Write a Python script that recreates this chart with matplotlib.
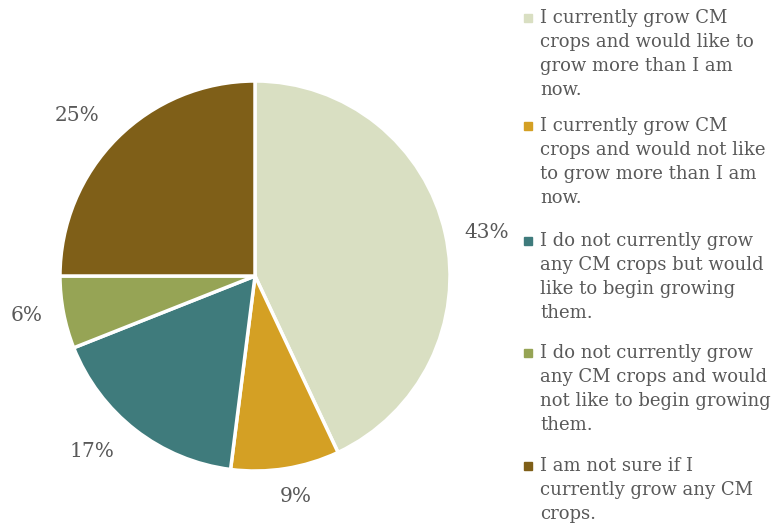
import numpy as np
import matplotlib.pyplot as plt

# data
labels = ['I currently grow CM\ncrops and would like to\ngrow more than I am\nnow.',
          'I currently grow CM\ncrops and would not like\nto grow more than I am\nnow.',
          'I do not currently grow\nany CM crops but would\nlike to begin growing\nthem.',
          'I do not currently grow\nany CM crops and would\nnot like to begin growing\nthem.',
          'I am not sure if I\ncurrently grow any CM\ncrops.']
values = [43, 9, 17, 6, 25]
colors = ['#D9DFC2', '#D4A024', '#3F7B7C', '#96A455', '#7F5F18']

plt.rcParams['font.family'] = 'DejaVu Serif'
txt_color = '#595959'

W, H = 776, 527
fig = plt.figure(figsize=(W / 100, H / 100), dpi=100)

# pie placed so centre ~ (255, 276) px, radius ~195 px
cx, cy, r = 255, 276, 195
ax = fig.add_axes([(cx - r) / W, (H - cy - r) / H, 2 * r / W, 2 * r / H])
wedges, texts, autotexts = ax.pie(values, colors=colors, startangle=90, counterclock=False,
                                  autopct='%1.0f%%', pctdistance=1.2,
                                  wedgeprops=dict(edgecolor='white', linewidth=2.5),
                                  textprops=dict(color=txt_color, fontsize=14.5))
ax.set_xlim(-1, 1)
ax.set_ylim(-1, 1)
ax.set_aspect('equal')

# nudge the percentage labels a bit like the original layout
lab_dist = [1.21, 1.15, 1.23, 1.19, 1.23]
lab_turn = [-2, 1.5, -5, -1, 3]
for w, t, d, a in zip(wedges, autotexts, lab_dist, lab_turn):
    ang = np.deg2rad((w.theta1 + w.theta2) / 2 + a)
    t.set_position((d * np.cos(ang), d * np.sin(ang)))

# legend drawn by hand to match the wrapped entries
tops = [18, 126, 241, 353, 466]
for lab, col, y in zip(labels, colors, tops):
    fig.patches.append(plt.Rectangle((524 / W, 1 - (y + 4) / H), 8 / W, 8 / H,
                                     transform=fig.transFigure, color=col))
    fig.text(540 / W, 1 - (y - 9) / H, lab, ha='left', va='top', fontsize=13,
             color=txt_color, linespacing=1.42)

fig.savefig('out.png', dpi=100)
